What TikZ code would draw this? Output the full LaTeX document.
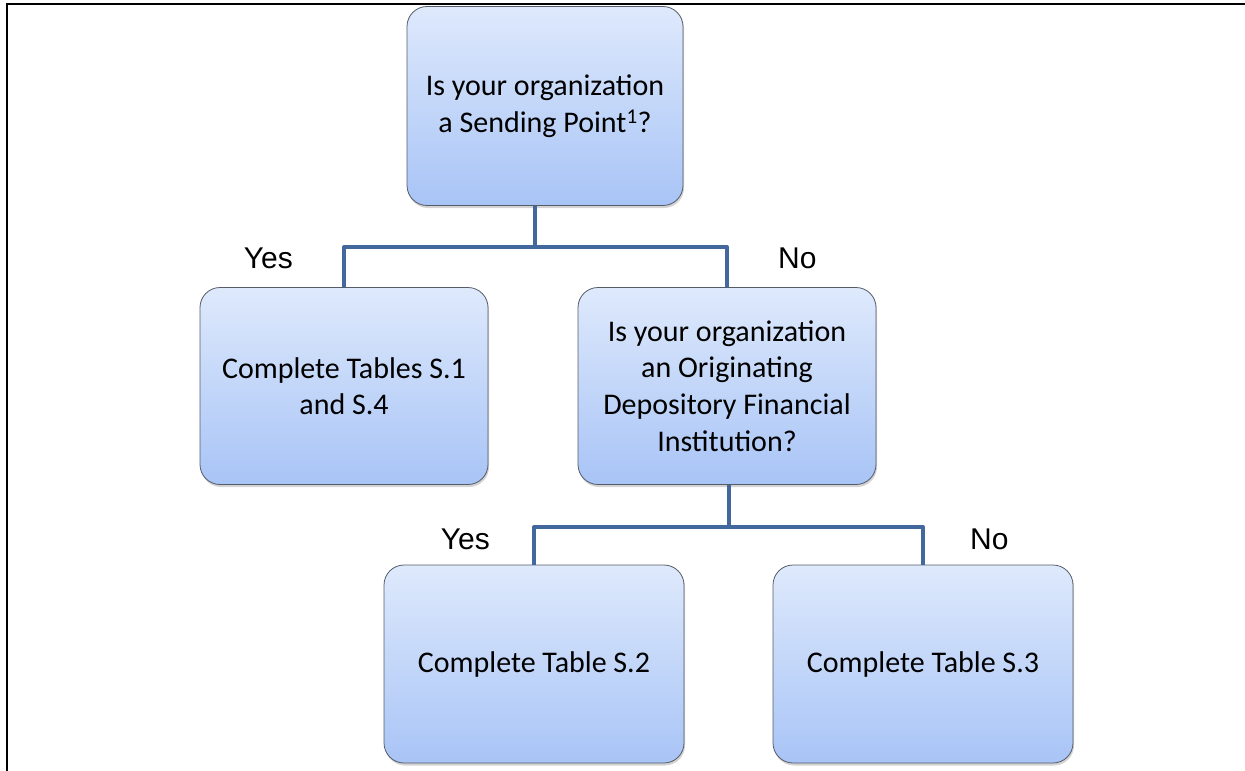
\documentclass[tikz,border=0pt]{standalone}
\usepackage{fontspec}
\setmainfont{Carlito}
\newfontfamily\arialfont{Liberation Sans}
\usepackage{xcolor}
\usepackage{tikz}
\usetikzlibrary{shapes.geometric, shadows, calc}
\definecolor{boxtop}{RGB}{222,233,252}
\definecolor{boxbot}{RGB}{168,196,246}
\definecolor{boxline}{RGB}{85,92,104}
\definecolor{linkblue}{RGB}{66,104,158}
\tikzstyle{card} = [rectangle, rounded corners=20pt, draw=boxline, line width=0.8pt,
  top color=boxtop, bottom color=boxbot, align=center, inner sep=4pt,
  font=\fontsize{30}{36.6}\selectfont,
  drop shadow={opacity=0.35, shadow xshift=1pt, shadow yshift=-2.5pt}]
\tikzstyle{link} = [linkblue, line width=4pt]
\tikzstyle{answer} = [font=\arialfont\fontsize{30}{36}\selectfont, inner sep=0pt]

\begin{document}
\begin{tikzpicture}[x=1pt, y=-1pt]
  \useasboundingbox (0,0) rectangle (1245,771);
  % Frame:
  \draw [line width=2pt] (7,771) -- (7,4) -- (1245,4);

  % Boxes:
  \node [card, minimum width=276pt, minimum height=199pt] (sp) at (545,106) {Is your organization\\a Sending Point\textsuperscript{1}?};
  \node [card, minimum width=288pt, minimum height=197pt] (t14) at (344,386) {Complete Tables S.1\\and S.4};
  \node [card, minimum width=298pt, minimum height=197pt] (odfi) at (727,386) {Is your organization\\an Originating\\Depository Financial\\Institution?};
  \node [card, minimum width=300pt, minimum height=198pt] (t2) at (534,664) {Complete Table S.2};
  \node [card, minimum width=300pt, minimum height=198pt] (t3) at (923,664) {Complete Table S.3};

  % Connectors:
  \coordinate (j1) at (535,247);
  \coordinate (j2) at (729,527);
  \draw [link] (sp.south -| j1) -- (j1);
  \draw [link, line join=round] (t14.north) |- (j1) -| (odfi.north);
  \draw [link] (odfi.south -| j2) -- (j2);
  \draw [link, line join=round] (t2.north) |- (j2) -| (t3.north);

  % Answers:
  \node [answer, anchor=base east] (yes1) at (293,268) {Yes};
  \node [answer, anchor=base west] (no1) at (778,268) {No};
  \node [answer, anchor=base east] (yes2) at (490,549) {Yes};
  \node [answer, anchor=base west] (no2) at (970,549) {No};
\end{tikzpicture}
\end{document}
